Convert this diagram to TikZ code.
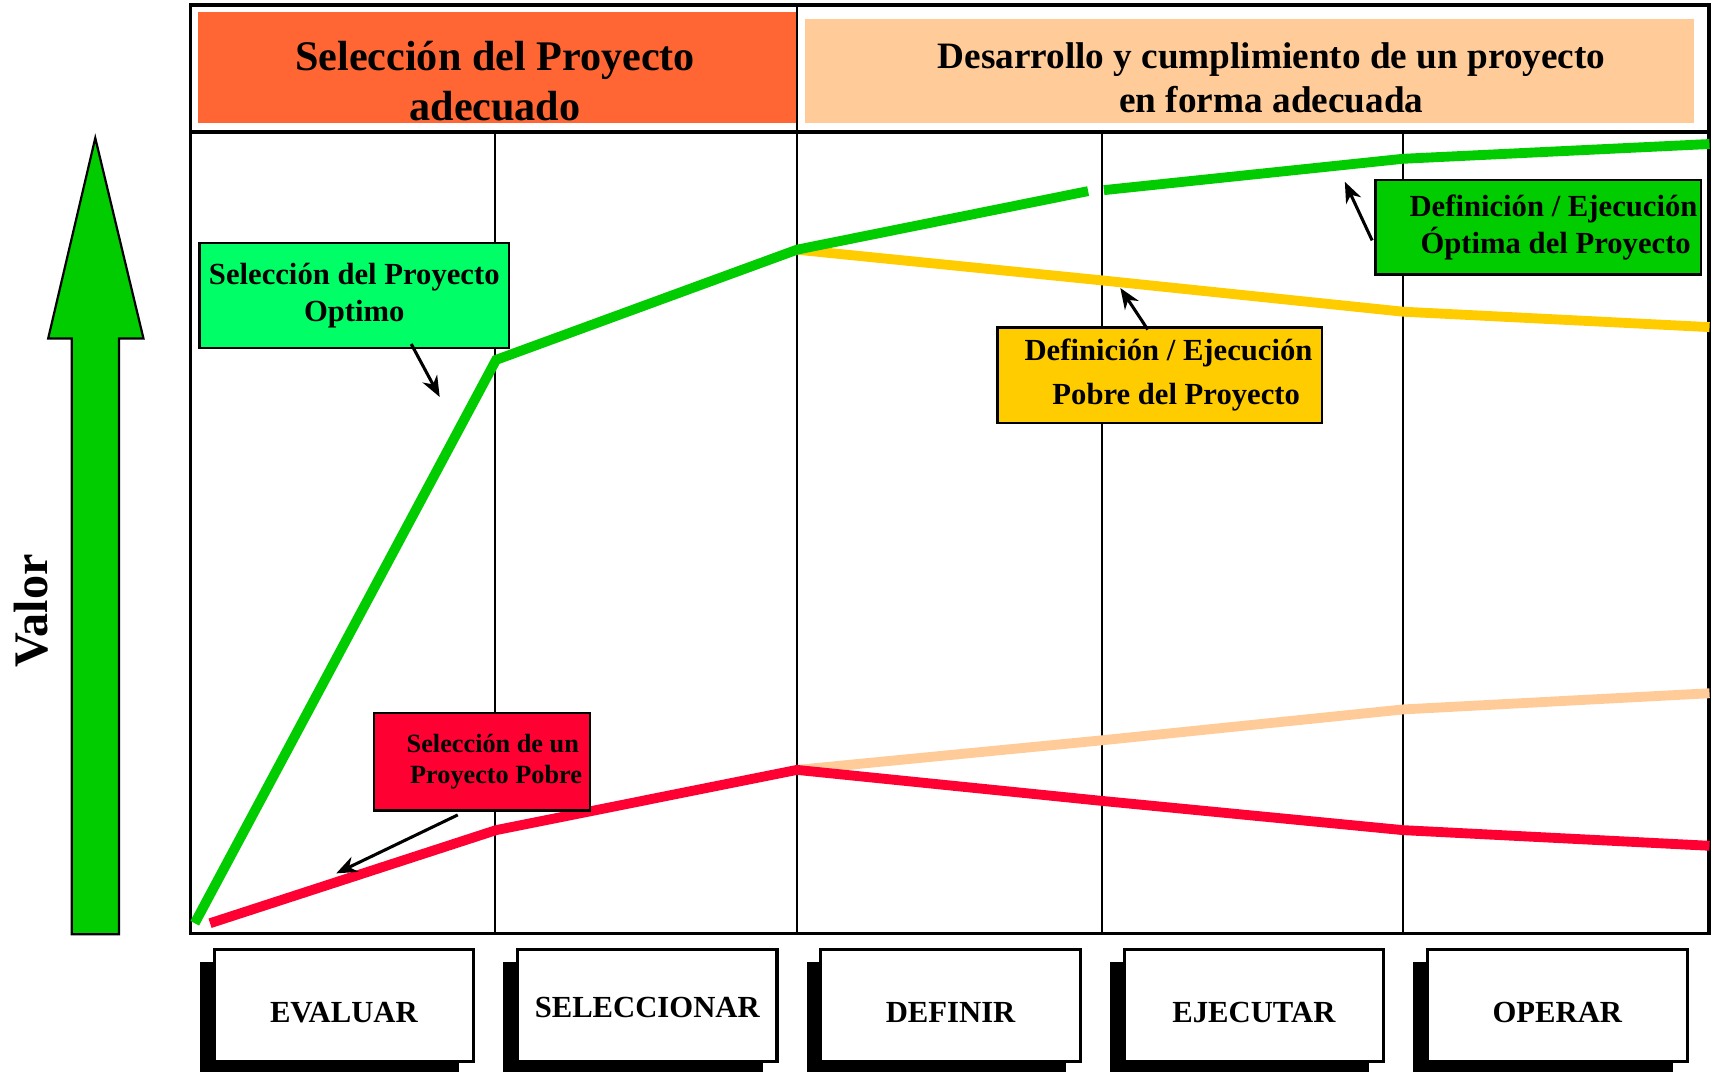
\documentclass[tikz,border=0pt]{standalone}
\usepackage{fontspec}
\setmainfont{Liberation Serif}
\usetikzlibrary{arrows.meta,shadows}
\definecolor{headorange}{HTML}{FF6633}
\definecolor{headpeach}{HTML}{FFCC99}
\definecolor{linegreen}{HTML}{00CC00}
\definecolor{boxgreen}{HTML}{00FF66}
\definecolor{lineyellow}{HTML}{FFCC00}
\definecolor{linered}{HTML}{FF0033}

\begin{document}
\begin{tikzpicture}[x=1pt,y=-1pt,
    frame/.style={line width=3.2pt},
    grid/.style={line width=2.2pt},
    curve/.style={line width=9pt},
    tag/.style={draw,line width=2.2pt,inner sep=0pt,align=center,font=\bfseries\fontsize{28}{34}\selectfont},
    note/.style={line width=2.8pt,-{Stealth[length=19pt,width=15pt,inset=6pt]}},
    phase/.style={draw,fill=white,line width=2.8pt,minimum width=237pt,minimum height=102pt,
      font=\bfseries\fontsize{28}{30}\selectfont,
      drop shadow={shadow xshift=-13pt,shadow yshift=-11pt,fill=black,opacity=1}}]
  \useasboundingbox (0,0) rectangle (1566,978);
  % headers
  \node[fill=headorange,minimum width=546pt,minimum height=101.6pt] (selhead) at (454,61.8) {};
  \node[fill=headpeach,minimum width=812pt,minimum height=95.6pt] (devhead) at (1141,64.8) {};
  \node[align=center,font=\bfseries\fontsize{38.5}{45}\selectfont] (seltext) at (452,74)
    {Selección del Proyecto\\adecuado};
  \node[align=center,font=\bfseries\fontsize{34}{40}\selectfont] (devtext) at (1161,71)
    {Desarrollo y cumplimiento de un proyecto\\en forma adecuada};
  % frame and columns
  \draw[frame] (174,4.7) rectangle (1560.6,852.6) (174,120.4) -- (1560.6,120.4);
  \draw[grid] (727.7,4.7) -- (727.7,852.6);
  \foreach \x in {452,1006,1281}
    \draw[grid] (\x,120.4) -- (\x,852.6);
  % value arrow
  \draw[line width=2pt,fill=linegreen] (87,126) -- (131,309) -- (108.7,309) -- (108.7,853)
    -- (65.6,853) -- (65.6,309) -- (44,309) -- cycle;
  \node[rotate=90,font=\bfseries\fontsize{44}{44}\selectfont] (valor) at (28,558) {Valor};
  % curves
  \draw[curve,lineyellow] (727.7,228) -- (1006,256) -- (1281,284.6) -- (1561,298.7);
  \draw[curve,headpeach] (727.7,703) -- (1006,676) -- (1281,647.8) -- (1561,633);
  \draw[curve,linegreen] (177.8,843) -- (453,328.6) -- (727.7,228) -- (993.6,174.5)
    (1008,173.6) -- (1281,145) -- (1561,131.5);
  \draw[curve,linered] (191.8,843) -- (453,758) -- (727.7,703) -- (1006,731.3)
    -- (1281,758) -- (1561,772.3);
  % labels
  \node[tag,fill=boxgreen,minimum width=283pt,minimum height=96pt] (optsel) at (323.5,270)
    {Selección del Proyecto\\Optimo};
  \node[tag,fill=lineyellow,minimum width=296pt,minimum height=87pt,
    font=\bfseries\fontsize{28}{40}\selectfont] (pobdef) at (1059,342.5)
    {\hspace*{16pt}Definición / Ejecución\\\hspace*{30pt}Pobre del Proyecto};
  \node[tag,fill=linegreen,minimum width=297pt,minimum height=86.6pt] (optdef) at (1404.5,207.5)
    {\hspace*{28pt}Definición / Ejecución\\\hspace*{32pt}Óptima del Proyecto};
  \node[tag,fill=linered,minimum width=197pt,minimum height=89pt,
    font=\bfseries\fontsize{24}{29}\selectfont] (pobsel) at (440,695.5)
    {\hspace*{20pt}Selección de un\\\hspace*{26pt}Proyecto Pobre};
  \coordinate (optseltip) at (401.5,362.5);
  \coordinate (pobdeftip) at (1023,263);
  \coordinate (optdeftip) at (1228,166);
  \coordinate (pobseltip) at (307,797.5);
  \draw[note] ([xshift=52pt,yshift=5pt]optsel.south) -- (optseltip);
  \draw[note] ([xshift=-11pt,yshift=-3pt]pobdef.north) -- (pobdeftip);
  \draw[note] ([xshift=-2pt,yshift=-12pt]optdef.west) -- (optdeftip);
  \draw[note] ([xshift=-22pt,yshift=-3pt]pobsel.south) -- (pobseltip);
  % phases
  \foreach \name/\lbl/\dy [count=\i] in {evaluar/EVALUAR/-16,seleccionar/SELECCIONAR/-11,
      definir/DEFINIR/-16,ejecutar/EJECUTAR/-16,operar/OPERAR/-16}
    \node[phase] (\name) at (314+277*\i-277,918) {\raisebox{\dy pt}[0pt][0pt]{\lbl}};
\end{tikzpicture}
\end{document}
